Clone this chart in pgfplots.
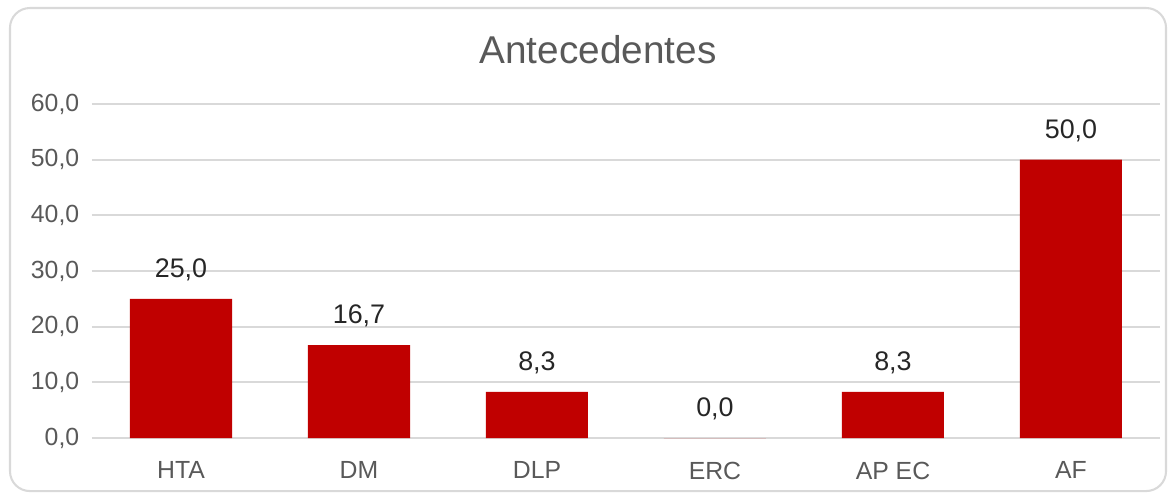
\documentclass[border=0pt]{standalone}
\usepackage{pgfplots}
\pgfplotsset{compat=1.18}
\usepackage{fontspec}
\setmainfont{Liberation Sans}
\definecolor{barred}{HTML}{C00000}
\definecolor{gridgray}{HTML}{D9D9D9}
\definecolor{txtgray}{HTML}{595959}
\begin{document}
\begin{tikzpicture}
  \useasboundingbox (0,0) rectangle (16cm,6.721cm);
  \draw[gridgray, line width=0.8pt, rounded corners=0.27cm]
    (0.136cm,0.04cm) rectangle (15.864cm,6.612cm);
  \node[txtgray, font=\fontsize{15}{18}\selectfont] at (8.136cm,6.041cm) {Antecedentes};
  \begin{axis}[
      at={(1.2517cm,0.7619cm)},
      anchor=south west,
      scale only axis,
      width=14.530cm,
      height=4.544cm,
      xmin=-0.5, xmax=5.5,
      ymin=0, ymax=60,
      xtick=data,
      xticklabels={HTA, DM, DLP, ERC, AP EC, AF},
      ytick={0,10,20,30,40,50,60},
      major tick length=0pt,
      axis x line*=bottom,
      axis y line*=left,
      y axis line style={draw=none},
      x axis line style={gridgray, line width=0.8pt},
      ymajorgrids,
      grid style={gridgray, line width=0.8pt},
      tick label style={txtgray, font=\fontsize{9.6}{11}\selectfont},
      xticklabel style={yshift=-0.2cm},
      yticklabel style={xshift=-0.05cm},
      /pgf/number format/assume math mode=true,
      yticklabel={\pgfmathprintnumber[fixed, fixed zerofill, precision=1, use comma]{\tick}},
      ybar,
      bar width=1.388cm,
      nodes near coords={\pgfmathprintnumber[fixed, fixed zerofill, precision=1, use comma, assume math mode=true]{\pgfplotspointmeta}},
      nodes near coords style={black!85, font=\fontsize{10.4}{13}\selectfont, anchor=south, yshift=0.12cm},
      clip=false
    ]
    \addplot[fill=barred, draw=none] coordinates {
      (0,25.0) (1,16.7) (2,8.3) (3,0.0) (4,8.3) (5,50.0)
    };
  \end{axis}
\end{tikzpicture}
\end{document}
